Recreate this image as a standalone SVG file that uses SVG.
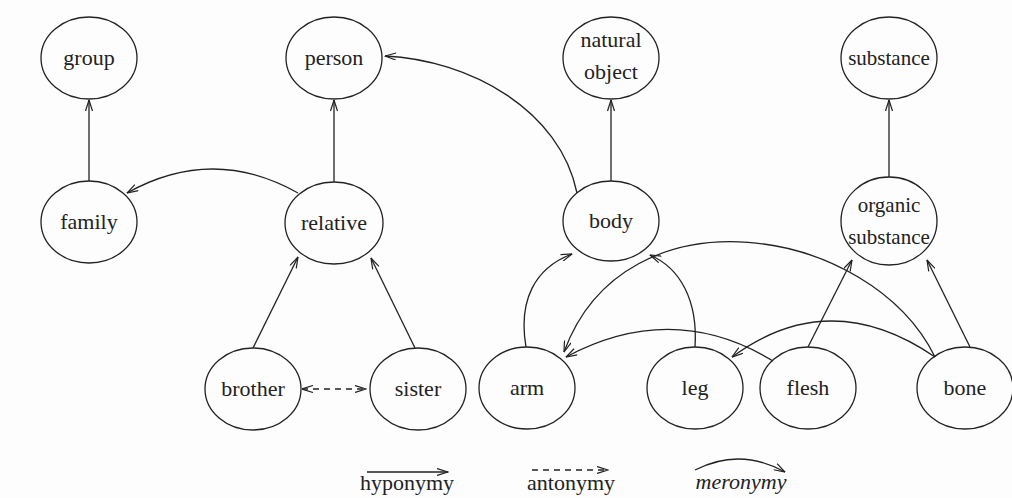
<svg xmlns="http://www.w3.org/2000/svg" width="1012" height="498" viewBox="0 0 1012 498" font-family="Liberation Serif, Times New Roman, serif">
  <defs>
    <marker id="open" viewBox="0 0 12 8" refX="11.5" refY="4" markerWidth="12" markerHeight="8" markerUnits="userSpaceOnUse" orient="auto-start-reverse">
      <path d="M0.5,0.5 L11.5,4 L0.5,7.5" fill="none" stroke="#222" stroke-width="1.2"/>
    </marker>
    <style>
      .node ellipse { fill: none; stroke: #222; stroke-width: 1.3; }
      text { font-size: 22px; fill: #222; text-anchor: middle; }
      text.small { font-size: 21px; }
      .edge { fill: none; stroke: #222; stroke-width: 1.3; marker-end: url(#open); }
      .dash { stroke-dasharray: 6 5; marker-start: url(#open); }
      text.mero { font-style: italic; }
    </style>
  </defs>
  <rect width="1012" height="498" fill="#fdfdfd"/>

  <!-- top row -->
  <g id="group" class="node"><ellipse cx="89" cy="58" rx="48" ry="41"/><text x="89" y="65" font-family="Liberation Serif">group</text></g>
  <g id="person" class="node"><ellipse cx="334" cy="58" rx="48" ry="41"/><text x="334" y="65">person</text></g>
  <g id="natural-object" class="node"><ellipse cx="611" cy="58" rx="48" ry="41"/><text x="611" y="47">natural</text><text x="611" y="79">object</text></g>
  <g id="substance" class="node"><ellipse cx="889" cy="58" rx="48" ry="41"/><text x="889" y="65" class="small">substance</text></g>

  <!-- middle row -->
  <g id="family" class="node"><ellipse cx="89" cy="222" rx="48" ry="41"/><text x="89" y="229">family</text></g>
  <g id="relative" class="node"><ellipse cx="334" cy="223" rx="49" ry="41"/><text x="334" y="230">relative</text></g>
  <g id="body" class="node"><ellipse cx="611" cy="221" rx="48" ry="40"/><text x="611" y="228">body</text></g>
  <g id="organic-substance" class="node"><ellipse cx="889" cy="221" rx="48" ry="44"/><text x="889" y="212" class="small">organic</text><text x="889" y="244" class="small">substance</text></g>

  <!-- bottom row -->
  <g id="brother" class="node"><ellipse cx="253" cy="389" rx="48" ry="41"/><text x="253" y="396">brother</text></g>
  <g id="sister" class="node"><ellipse cx="418" cy="389" rx="48" ry="41"/><text x="418" y="396">sister</text></g>
  <g id="arm" class="node"><ellipse cx="527" cy="388" rx="48" ry="41"/><text x="527" y="395">arm</text></g>
  <g id="leg" class="node"><ellipse cx="695" cy="388" rx="48" ry="41"/><text x="695" y="395">leg</text></g>
  <g id="flesh" class="node"><ellipse cx="808" cy="388" rx="48" ry="41"/><text x="808" y="395">flesh</text></g>
  <g id="bone" class="node"><ellipse cx="965" cy="388" rx="48" ry="41"/><text x="965" y="395">bone</text></g>

  <g id="connectors">
    <!-- hyponymy -->
    <path class="edge" d="M89,181 L89,100"/>
    <path class="edge" d="M334,182 L334,100"/>
    <path class="edge" d="M611,181 L611,100"/>
    <path class="edge" d="M889,177 L889,100"/>
    <path class="edge" d="M253,348 L298,257"/>
    <path class="edge" d="M415,348 L371,258"/>
    <path class="edge" d="M808,347 L852,260"/>
    <path class="edge" d="M970,347 L927,260"/>
    <!-- antonymy -->
    <path class="edge dash" d="M302,389 L366,389"/>
    <!-- meronymy -->
    <path class="edge" d="M298,193 Q213,145 127,193"/>
    <path class="edge" d="M577,193 C560,110 470,60 385,56"/>
    <path class="edge" d="M526,347 C518,300 535,268 572,254"/>
    <path class="edge" d="M695,347 C698,300 680,268 650,255"/>
    <path class="edge" d="M935,357 C870,225 625,185 564,352"/>
    <path class="edge" d="M773,361 Q673,300 566,357"/>
    <path class="edge" d="M935,357 Q830,285 732,357"/>
  </g>

  <g id="legend">
    <path class="edge" d="M367,472 L448,472"/>
    <text x="407" y="490">hyponymy</text>
    <path class="edge dash" d="M532,470 L608,470" style="marker-start:none"/>
    <text x="571" y="490">antonymy</text>
    <path class="edge" d="M695,470 Q740,447 785,472"/>
    <text x="741" y="489" class="mero">meronymy</text>
  </g>
</svg>
